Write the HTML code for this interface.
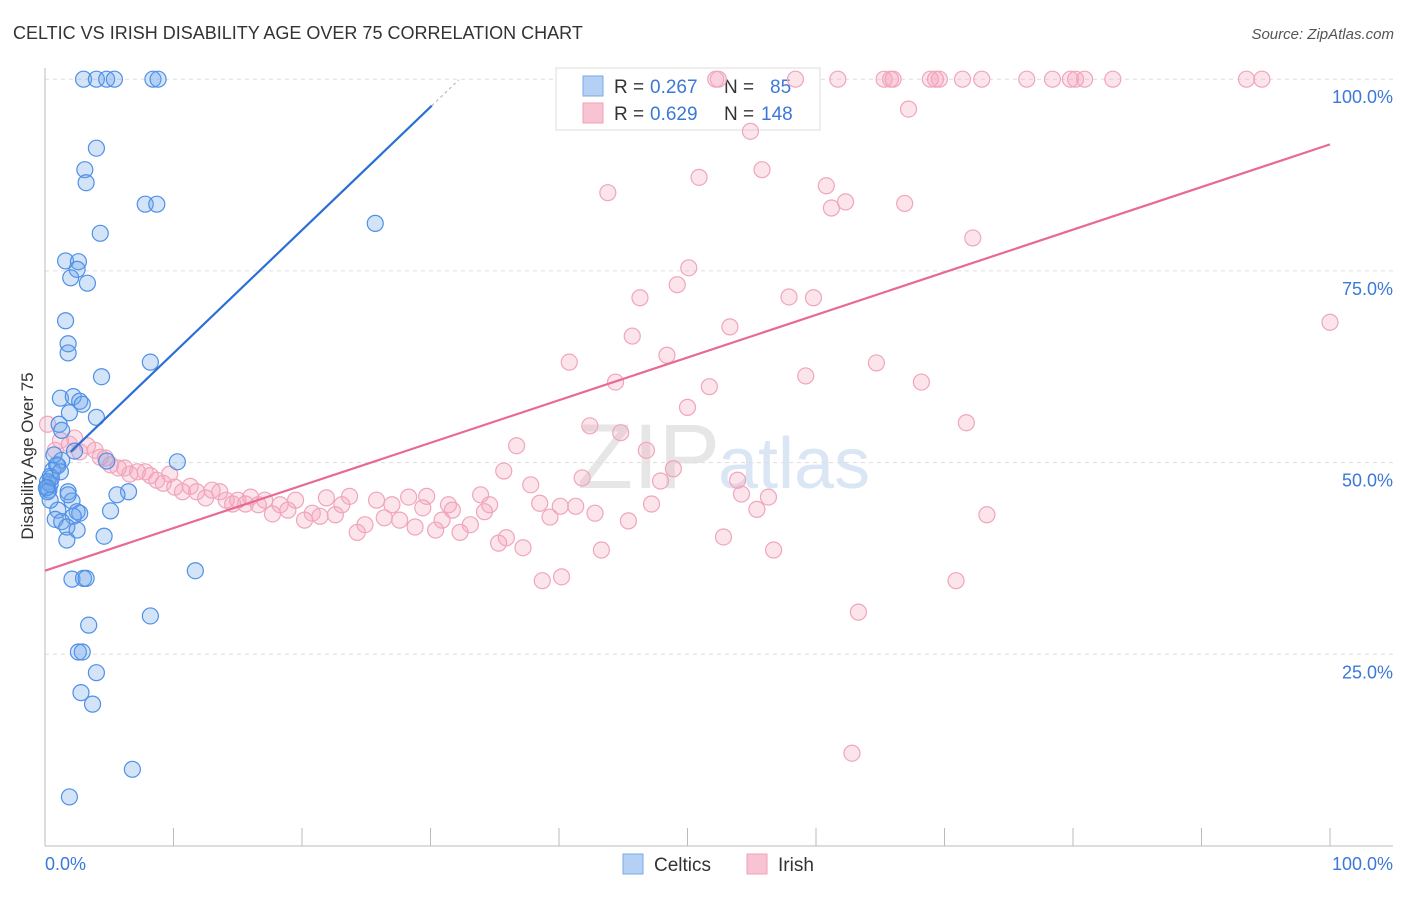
<!DOCTYPE html>
<html><head><meta charset="utf-8"><style>
body{margin:0;background:#fff;font-family:"Liberation Sans",sans-serif}
svg text{font-family:"Liberation Sans",sans-serif}
</style></head><body>
<svg id="c" width="1406" height="892">
<text x="13" y="39" font-size="18" fill="#333">CELTIC VS IRISH DISABILITY AGE OVER 75 CORRELATION CHART</text>
<text x="1394" y="39" font-size="15" fill="#555" font-style="italic" text-anchor="end">Source: ZipAtlas.com</text>
<text x="33" y="456" font-size="17" fill="#333" text-anchor="middle" transform="rotate(-90 33 456)">Disability Age Over 75</text>
<text x="720" y="488" font-size="92" fill="#e6e6e6" text-anchor="end" font-family="Liberation Serif">ZIP</text>
<text x="718" y="488" font-size="72" fill="#dbe6f5">atlas</text>
<g id="grid"></g>
<g>
<rect x="556" y="68" width="264" height="62" fill="#fff" stroke="#ddd"/>
<rect x="583" y="76" width="20" height="20" fill="#b5d0f5" stroke="#7aa9e6"/>
<text x="614" y="93" font-size="19" fill="#333">R =</text>
<text x="650" y="93" font-size="19" fill="#3b78d8">0.267</text>
<text x="724" y="93" font-size="19" fill="#333">N =</text>
<text x="770" y="93" font-size="19" fill="#3b78d8">85</text>
<rect x="583" y="103" width="20" height="20" fill="#f8c4d3" stroke="#f0a0b8"/>
<text x="614" y="120" font-size="19" fill="#333">R =</text>
<text x="650" y="120" font-size="19" fill="#3b78d8">0.629</text>
<text x="724" y="120" font-size="19" fill="#333">N =</text>
<text x="761" y="120" font-size="19" fill="#3b78d8">148</text>
</g>
<g id="pts"></g><g id="lines"></g>
<g>
<rect x="623" y="854" width="20" height="20" fill="#b5d0f5" stroke="#7aa9e6"/>
<text x="654" y="871" font-size="19" fill="#333">Celtics</text>
<rect x="747" y="854" width="20" height="20" fill="#f8c4d3" stroke="#f0a0b8"/>
<text x="778" y="871" font-size="19" fill="#333">Irish</text>
</g>
</svg>
<script>
const celticX=[3,4,4.8,5.4,8.4,8.8,4,3.1,3.2,7.8,8.7,4.3,25.7,1.6,2.6,2.5,2,3.3,1.6,1.8,1.8,8.2,4.4,1.2,2.2,2.7,2.9,1.9,4,1.1,2.3,1.3,0.9,0.6,0.4,0.2,0.2,0.3,10.3,4.8,6.5,5.6,1.8,2.1,1.8,1,2.5,2.7,2.2,5.1,0.8,1.3,1.7,2.5,4.6,1.7,11.7,2.1,3,3.2,3.4,8.2,2.6,2.9,4,2.8,3.7,6.8,1.9,0.4,0.5,0.2,0.1,1,1.2,0.7,0.4,1.3];
const celticY=[100,100,100,100,100,100,91,88.2,86.5,83.7,83.7,79.9,81.2,76.3,76.2,75.2,74.1,73.4,68.5,65.5,64.3,63.1,61.2,58.4,58.6,58,57.6,56.5,55.9,55,51.5,50.3,49.7,49,48.2,47.5,46.8,46.4,50.1,50.2,46.2,45.8,46.2,45,45.8,43.8,43.6,43.4,43,43.7,42.6,42.3,41.6,41.2,40.4,39.9,35.9,34.8,34.9,34.9,28.8,30,25.3,25.3,22.6,20,18.5,10,6.4,47.2,48,46.2,46.7,49.6,48.8,51,45.1,54.2];
const irishX=[52.2,52.4,58.4,61.7,65.3,65.8,66,68.9,69.3,69.6,71.4,72.9,76.4,78.4,79.8,80.2,80.9,83.1,93.5,94.7,67.2,54.9,55.8,50.9,60.8,43.8,62.3,66.9,61.2,72.2,50.1,49.2,46.3,57.9,59.8,100,53.3,45.7,48.4,40.8,64.7,59.2,44.4,51.7,68.2,50,42.4,71.7,44.8,36.7,46.8,35.7,48.9,41.8,47.9,37.8,53.9,54.2,56.3,47.2,38.5,40.1,41.3,55.4,42.8,39.3,45.4,73.3,52.8,56.7,43.3,37.2,35.3,35.9,38.7,40.2,70.9,63.3,62.8,
0.2,0.8,1.2,1.9,2.3,3.3,2.7,3.9,4.3,4.7,5.1,5.7,6.2,6.6,7.2,7.8,8.2,8.7,9.2,9.7,10.1,10.7,11.3,11.8,12.5,13,13.6,14.1,14.6,15,15.6,16,16.6,17.1,17.7,18.3,18.9,19.5,20.2,20.8,21.4,21.9,22.6,23.1,23.7,24.3,24.9,25.8,26.4,27,27.6,28.3,28.8,29.7,30.4,30.9,31.7,32.3,33.1,33.9,34.6,34.2,31.4,29.4];
const irishY=[100,100,100,100,100,100,100,100,100,100,100,100,100,100,100,100,100,100,100,100,96.1,93.2,88.2,87.2,86.1,85.2,84,83.8,83.2,79.3,75.4,73.2,71.5,71.6,71.5,68.3,67.7,66.5,64,63.1,63,61.3,60.5,59.9,60.5,57.2,54.8,55.2,53.9,52.2,51.6,48.9,49.2,48,47.6,47.1,47.7,45.9,45.5,44.6,44.7,44.3,44.3,43.9,43.4,42.9,42.4,43.2,40.3,38.6,38.6,38.9,39.5,40.2,34.6,35.1,34.6,30.5,12.1,
55,51.6,52.9,52.4,53.2,52.2,51.4,51.6,50.7,50.6,49.7,49.3,49.3,48.5,48.8,48.8,48.3,47.7,47.3,48.5,46.8,46.2,46.9,46.2,45.4,46.4,46.2,45.1,44.6,45.1,44.6,45.5,44.5,45.1,43.3,44.5,43.8,45.1,42.5,43.4,43,45.4,43.2,44.5,45.6,40.9,41.9,45.1,42.8,44.5,42.5,45.5,41.6,45.6,41.2,42.5,43.8,40.9,41.9,45.8,44.5,43.6,44.5,44.1];
const celticFit=[48.2,1.606];
const irishFit=[35.9,0.556];
const yTicks=[25,50,75,100];
const xTicks=[0,10,20,30,40,50,60,70,80,90,100];
const NS="http://www.w3.org/2000/svg";
const sx=v=>45+v*12.85, sy=v=>846-v*7.668;
function mk(t,a,p){const e=document.createElementNS(NS,t);for(const k in a)e.setAttribute(k,a[k]);p.appendChild(e);return e;}
const g=document.getElementById('grid');
yTicks.forEach(t=>{const l=mk('line',{x1:45,x2:1393,y1:sy(t),y2:sy(t),stroke:'#ddd','stroke-dasharray':'4,4'},g);


const tx=mk('text',{x:1393,y:sy(t)+24,'font-size':18,fill:'#3b78d8','text-anchor':'end'},g);tx.textContent=t.toFixed(1)+'%';

});
mk('line',{x1:45,x2:45,y1:68,y2:846,stroke:'#bbb'},g);
mk('line',{x1:45,x2:1393,y1:846,y2:846,stroke:'#bbb'},g);
xTicks.forEach(t=>{const l=mk('line',{x1:sx(t),x2:sx(t),y1:828,y2:846,stroke:'#bbb'},g);

});
[[0,'start','0.0%'],[100,'end','100.0%']].forEach(a=>{const tx=mk('text',{x:a[0]==0?45:1393,y:870,'font-size':18,fill:'#3b78d8','text-anchor':a[1]},g);tx.textContent=a[2];

});
const P=document.getElementById('pts');
irishX.forEach((x,i)=>{const c=mk('circle',{cx:sx(x),cy:sy(irishY[i]),r:8,fill:'rgba(245,165,190,0.3)',stroke:'#f0a5bd','stroke-width':1.2},P);

});
celticX.forEach((x,i)=>{const c=mk('circle',{cx:sx(x),cy:sy(celticY[i]),r:8,fill:'rgba(110,165,235,0.3)',stroke:'#4f90e6','stroke-width':1.2},P);

});
const L=document.getElementById('lines');
const f=(fit,x)=>fit[0]+fit[1]*x;
let l1=mk('line',{x1:sx(2),y1:sy(f(celticFit,2)),x2:sx(30.1),y2:sy(f(celticFit,30.1)),stroke:'#2b6fd6','stroke-width':2.2},L);


let l2=mk('line',{x1:sx(30.1),y1:sy(f(celticFit,30.1)),x2:sx(32.2),y2:sy(f(celticFit,32.2)),stroke:'#bbb','stroke-width':1.2,'stroke-dasharray':'3,3'},L);


let l3=mk('line',{x1:sx(0),y1:sy(f(irishFit,0)),x2:sx(100),y2:sy(f(irishFit,100)),stroke:'#e86a94','stroke-width':2.2},L);


</script>
</body></html>
